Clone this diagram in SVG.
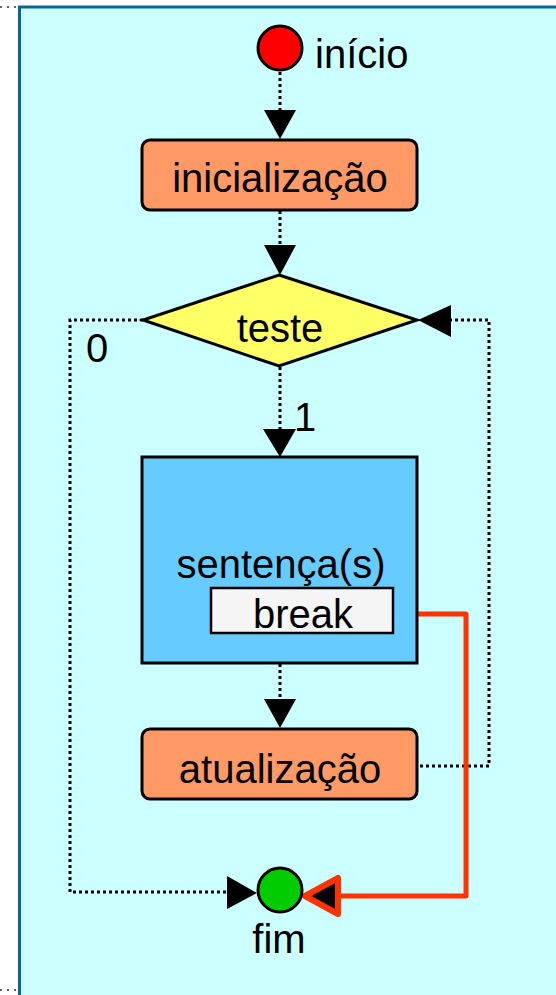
<svg xmlns="http://www.w3.org/2000/svg" width="556" height="995" viewBox="0 0 556 995">
<style>
text{font-family:"Liberation Sans",Arial,sans-serif;font-size:40px;fill:#000}
.c{text-anchor:middle}
.dot{fill:none;stroke:#000;stroke-width:3;stroke-dasharray:3 3}
.n{stroke:#000;stroke-width:3}
.ah{fill:#000;stroke:none}
</style>
<rect x="0" y="0" width="556" height="995" fill="#fff"/>
<rect x="19.5" y="7" width="545" height="995" fill="#CCFFFF" stroke="#0A64A0" stroke-width="3"/>
<line x1="0" y1="7" x2="17" y2="7" stroke="#333" stroke-width="1.5" stroke-dasharray="2 5"/>
<line x1="0" y1="990" x2="17" y2="990" stroke="#333" stroke-width="1.5" stroke-dasharray="2 5"/>

<g id="connectors">
  <line class="dot" x1="280" y1="72" x2="280" y2="111"/>
  <polygon class="ah" points="264,110 296,110 280,139"/>
  <line class="dot" x1="280" y1="211" x2="280" y2="246"/>
  <polygon class="ah" points="264,245 296,245 280,275"/>
  <line class="dot" x1="280" y1="367" x2="280" y2="430"/>
  <polygon class="ah" points="263,429 296,429 280,457"/>
  <polyline class="dot" points="143,320 70,320 70,892 228,892"/>
  <polygon class="ah" points="227,876 227,909 257,893"/>
  <polyline class="dot" points="420,766 489,766 489,320 451,320"/>
  <polygon class="ah" points="451,305 451,337 418,320"/>
  <line class="dot" x1="280" y1="664" x2="280" y2="700"/>
  <polygon class="ah" points="264,699 296,699 280,728"/>
  <polyline points="393,614 466,614 466,896 340,896" fill="none" stroke="#FF3300" stroke-width="5" stroke-linejoin="round"/>
  <polygon points="338,878 338,914 305,896" fill="#000" stroke="#FF3300" stroke-width="6" stroke-linejoin="round"/>
</g>

<g id="inicio">
  <circle class="n" cx="280" cy="48" r="22" fill="#FF0000"/>
  <text x="315" y="68">início</text>
</g>
<g id="inicializacao">
  <rect class="n" x="142" y="140" width="275" height="70" rx="8" fill="#FF9966"/>
  <text class="c" x="280" y="192">inicialização</text>
</g>
<g id="teste">
  <polygon class="n" points="279,275 417,320 279,366 143,320" fill="#FFFF66"/>
  <text class="c" x="280" y="342">teste</text>
  <text x="86" y="362">0</text>
  <text x="294" y="431">1</text>
</g>
<g id="sentencas">
  <rect class="n" x="142" y="457" width="275" height="206" fill="#66CCFF"/>
  <text class="c" x="281" y="578">sentença(s)</text>
</g>
<g id="break">
  <rect x="211" y="588" width="182" height="45" fill="#F5F5F5" stroke="#000" stroke-width="2.5"/>
  <text class="c" x="303" y="628">break</text>
</g>
<g id="atualizacao">
  <rect class="n" x="142" y="729" width="275" height="70" rx="8" fill="#FF9966"/>
  <text class="c" x="280" y="783">atualização</text>
</g>
<g id="fim">
  <circle class="n" cx="280" cy="890" r="22" fill="#00CC00"/>
  <text class="c" x="279" y="953">fim</text>
</g>
</svg>
